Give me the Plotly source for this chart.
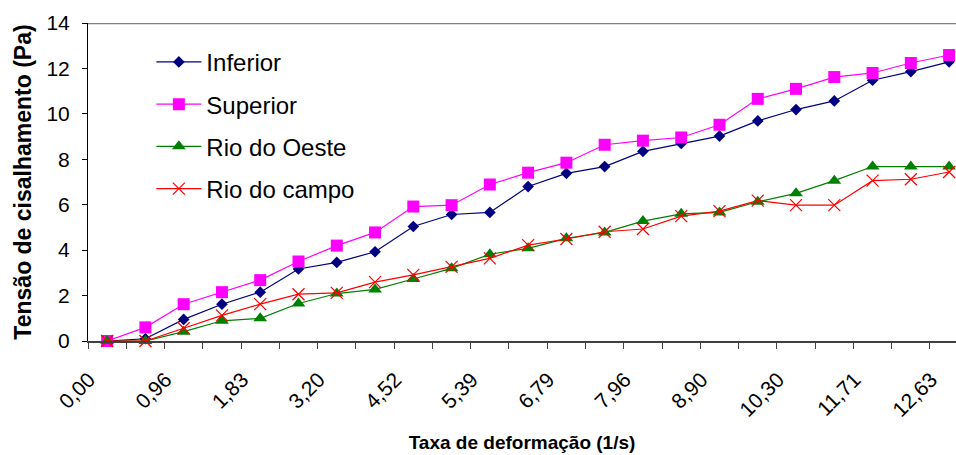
import plotly.graph_objects as go

# x categories: 23 measurement points, labels shown on every other one
tick_labels = ["0,00", "0,96", "1,83", "3,20", "4,52", "5,39", "6,79",
               "7,96", "8,90", "10,30", "11,71", "12,63"]
n_points = 23
x_idx = list(range(n_points))

inferior = [0.0, 0.1, 0.95, 1.62, 2.15, 3.17, 3.46, 3.93, 5.04, 5.57, 5.66, 6.8,
            7.38, 7.68, 8.35, 8.7, 9.02, 9.69, 10.19, 10.57, 11.48, 11.86, 12.29]
superior = [0.0, 0.6, 1.62, 2.15, 2.68, 3.5, 4.2, 4.78, 5.92, 5.98, 6.89, 7.41,
            7.85, 8.64, 8.82, 8.96, 9.52, 10.66, 11.1, 11.62, 11.8, 12.24, 12.59]
rio_oeste = [0.0, 0.0, 0.41, 0.89, 1.0, 1.65, 2.09, 2.27, 2.73, 3.2, 3.82, 4.08,
             4.52, 4.78, 5.28, 5.6, 5.66, 6.13, 6.5, 7.06, 7.68, 7.68, 7.68]
rio_campo = [0.0, 0.0, 0.56, 1.13, 1.62, 2.06, 2.12, 2.59, 2.91, 3.26, 3.64, 4.22,
             4.49, 4.81, 4.93, 5.5, 5.72, 6.18, 5.98, 5.98, 7.06, 7.12, 7.44]

series = [
    ("Inferior", inferior, "#000080", "diamond", 9),
    ("Superior", superior, "#FF00FF", "square", 12),
    ("Rio do Oeste", rio_oeste, "#008000", "triangle-up", 12),
    ("Rio do campo", rio_campo, "#FF0000", "x-thin-open", 12),
]

fig = go.Figure()
for name, vals, col, sym, sz in series:
    marker = dict(symbol=sym, size=sz, color=col)
    if sym.startswith("x-thin"):
        marker["line"] = dict(color=col, width=1.2)
    fig.add_trace(go.Scatter(
        x=x_idx, y=vals, name=name, mode="lines+markers",
        line=dict(color=col, width=1.2), marker=marker,
        legendgroup=name, cliponaxis=False,
    ))

fig.add_shape(type="line", xref="paper", yref="y", x0=0, x1=1, y0=14, y1=14,
              line=dict(color="#808080", width=2.5))

fig.update_layout(
    width=956, height=455,
    margin=dict(l=87.5, r=0, t=23.3, b=113.7),
    paper_bgcolor="white", plot_bgcolor="white",
    font=dict(family="Liberation Sans, Arial, sans-serif", color="black"),
    showlegend=True,
    legend=dict(x=0.073, y=0.947, xanchor="left", yanchor="top",
                font=dict(size=24), bgcolor="rgba(0,0,0,0)", itemwidth=45,
                traceorder="grouped", tracegroupgap=8),
    xaxis=dict(
        range=[-0.5, 22.18], showgrid=False, zeroline=False, automargin=False,
        tickmode="array", tickvals=x_idx[::2], ticktext=tick_labels,
        tickangle=-45, ticks="", tickfont=dict(size=21),
        ticklabelshift=-18, ticklabelstandoff=16,
        showline=True, linecolor="#404040", linewidth=2,
        minor=dict(tickmode="linear", tick0=-0.5, dtick=1, ticks="outside",
                   ticklen=6, tickcolor="#404040", tickwidth=1, showgrid=False),
        title=dict(text="<b>Taxa de deformação (1/s)</b>", font=dict(size=19), standoff=16),
    ),
    yaxis=dict(
        range=[0, 14], dtick=2, showgrid=False, zeroline=False, automargin=False,
        ticks="outside", ticklen=5, tickcolor="black", tickfont=dict(size=21),
        ticklabelstandoff=8,
        showline=True, linecolor="black", linewidth=1,
        title=dict(text="<b>Tensão de cisalhamento (Pa)</b>", font=dict(size=23), standoff=8),
    ),
)

fig.write_html("out.html", config={"displayModeBar": False},
               post_script="document.body.style.margin='0';")
